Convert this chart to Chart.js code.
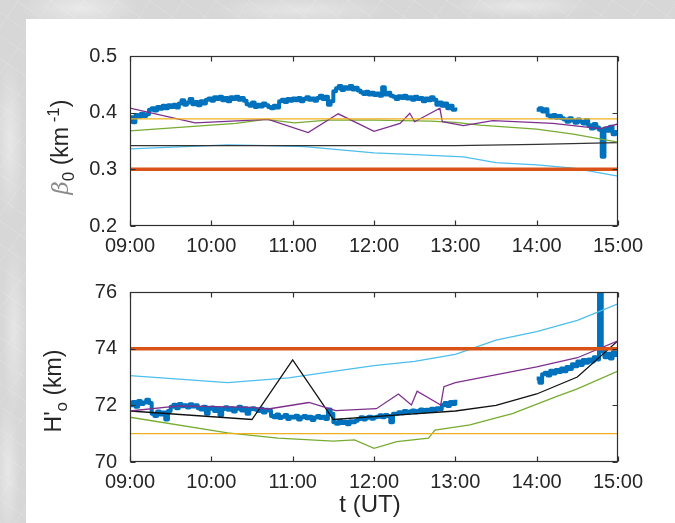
<!DOCTYPE html>
<html>
<head>
<meta charset="utf-8">
<script src="https://cdn.jsdelivr.net/npm/chart.js@4.4.1/dist/chart.umd.min.js"></script>
<style>
  html, body { margin:0; padding:0; }
  body {
    width:675px; height:523px; position:relative; overflow:hidden;
    background:
      radial-gradient(ellipse 60px 20px at 80px 8px, rgba(255,255,255,0.45), transparent),
      radial-gradient(ellipse 90px 14px at 300px 10px, rgba(255,255,255,0.35), transparent),
      radial-gradient(ellipse 70px 12px at 520px 6px, rgba(255,255,255,0.4), transparent),
      radial-gradient(ellipse 14px 80px at 10px 140px, rgba(255,255,255,0.4), transparent),
      radial-gradient(ellipse 12px 90px at 14px 330px, rgba(255,255,255,0.35), transparent),
      radial-gradient(ellipse 12px 70px at 8px 470px, rgba(255,255,255,0.4), transparent),
      repeating-linear-gradient(35deg, rgba(255,255,255,0.12) 0 1px, transparent 1px 19px),
      repeating-linear-gradient(-55deg, rgba(255,255,255,0.10) 0 1px, transparent 1px 27px),
      #d7d7d7;
    font-family: "Liberation Sans", Arial, sans-serif;
  }
  #panel { position:absolute; left:26px; top:19px; right:0; bottom:0; background:#fff; }
  canvas { position:absolute; left:0; top:0; }
  .ytitle { position:absolute; transform: translate(-50%,-50%) rotate(-90deg); white-space:nowrap;
            font-size:23px; color:#262626; line-height:1; }
  .ytitle sub, .ytitle sup { font-size:17px; }
  .beta { font-family: "DejaVu Serif", serif; font-style:italic; color:#8a8a8a; }
  #xtitle { position:absolute; left:370px; top:504px; transform:translate(-50%,-50%); font-size:24px; color:#262626; white-space:nowrap; }
</style>
</head>
<body>
<div id="panel"></div>
<canvas id="c1" width="675" height="523"></canvas>
<canvas id="c2" width="675" height="523"></canvas>
<div class="ytitle" style="left:61px; top:147px;"><span class="beta">β</span><sub>0</sub> (km<sup> -1</sup>)</div>
<div class="ytitle" style="left:56px; top:391px;">H'<sub>o</sub> (km)</div>
<div id="xtitle">t (UT)</div>
<script>
// ---------- DATA ----------
// hourly x ticks (hours UT)
const hourTicks = [9, 10, 11, 12, 13, 14, 15];
const betaTicks = [0.2, 0.3, 0.4, 0.5];
const hTicks = [70, 72, 74, 76];

// Measured blue series, sampled every 2 minutes
const blueStep = 1 / 30;
const betaMeasAMStart = 9;
const betaMeasAM = [
  0.392,0.383,0.396,0.393,0.398,0.394,0.397,
  0.405,0.408,0.404,0.41,0.407,0.412,0.408,0.413,0.41,0.414,0.409,
  0.416,0.422,0.414,0.418,0.424,0.415,0.419,0.413,0.42,0.416,0.423,
  0.425,0.421,0.427,0.424,0.428,0.422,0.426,0.42,0.427,0.424,0.428,0.423,0.426,0.421,
  0.415,0.412,0.418,0.41,0.414,0.411,0.416,0.413,
  0.41,0.408,0.412,0.409,
  0.42,0.423,0.419,0.424,0.421,0.425,0.422,0.426,0.42,0.424,0.427,0.423,0.425,0.421,0.426,0.43,0.424,0.428,
  0.414,0.42,0.438,
  0.443,0.447,0.44,0.445,0.442,0.447,0.441,0.444,0.439,
  0.436,0.433,0.437,0.432,0.435,0.431,
  0.434,0.43,0.445,0.432,0.435,0.43,
  0.428,0.424,0.429,0.426,0.43,0.425,
  0.427,0.423,0.428,0.424,0.426,0.42,0.425,0.422,0.427,0.423,
  0.414,0.418,0.412,0.416,
  0.408,0.412,0.405,0.409
];
const betaMeasPMStart = 14;
const betaMeasPM = [
  0.405,0.408,0.402,0.406,
  0.395,0.392,0.396,0.391,0.394,0.39,
  0.388,0.384,0.39,0.386,0.382,0.388,0.384,0.381,0.387,
  0.378,0.372,0.38,0.374,0.37,
  0.322,
  0.372,0.368,0.375,
  0.362,0.366,0.36
];
const hMeasAMStart = 9;
const hMeasAM = [
  72.0,72.12,71.95,72.15,72.05,72.1,
  72.2,72.08,
  71.7,71.62,71.78,71.68,71.75,
  71.5,71.8,
  71.95,72.02,71.9,72.05,71.97,72.0,71.92,72.04,71.96,72.0,
  71.9,71.85,71.95,71.7,71.88,71.92,71.8,71.9,71.65,71.87,71.93,71.84,71.9,71.78,71.88,71.95,71.82,71.9,71.7,71.86,71.9,
  71.85,71.8,71.88,71.75,71.84,71.82,
  71.62,71.58,71.68,71.55,71.6,71.66,71.52,71.6,71.57,71.63,71.5,71.58,71.62,71.54,71.6,71.48,71.57,71.62,
  71.55,71.6,71.52,
  71.85,71.7,
  71.4,71.35,71.45,71.38,71.42,71.33,71.44,71.4,71.46,
  71.52,71.58,71.5,71.56,71.6,71.53,71.58,
  71.6,71.65,71.58,71.66,71.62,
  71.4,71.7,
  71.7,71.76,71.72,71.8,71.74,71.78,71.82,71.76,71.8,71.85,71.78,71.84,71.8,
  71.88,71.83,71.9,71.86,
  72.0,72.08,71.98,72.12,72.05,72.2
];
const hMeasPMStart = 14;
const hMeasPM = [
  72.95,72.8,73.1,
  73.15,73.05,73.22,73.12,73.25,73.18,73.3,73.2,
  73.35,73.28,73.45,73.38,73.55,73.42,73.6,73.5,73.62,73.55,
  73.7,73.62,
  76.5,
  73.9,73.7,73.82,73.65,73.88,73.78,73.92
];

// Model curves, top panel (beta)
const betaRedT = [9, 15];            const betaRed = [0.3, 0.3];
const betaYellowT = [9, 15];         const betaYellow = [0.389, 0.389];
const betaBlackT = [9, 10, 11, 12, 13, 14, 15];
const betaBlack = [0.342, 0.342, 0.342, 0.342, 0.342, 0.344, 0.347];
const betaCyanT = [9, 10.2, 10.7, 11.15, 12.0, 12.5, 13.1, 13.5, 14.0, 14.45, 15];
const betaCyan = [0.336, 0.343, 0.342, 0.340, 0.329, 0.326, 0.322, 0.312, 0.308, 0.302, 0.288];
const betaGreenT = [9, 10.3, 10.67, 11.02, 11.43, 12.0, 12.7, 13.0, 13.3, 14.0, 14.45, 15];
const betaGreen = [0.368, 0.381, 0.388, 0.382, 0.387, 0.387, 0.385, 0.383, 0.378, 0.371, 0.362, 0.348];
const betaPurpleT = [9, 9.8, 10.7, 11.19, 11.56, 12.0, 12.32, 12.44, 12.5, 12.81, 12.84, 13.1, 13.46, 14.2, 14.78, 15];
const betaPurple = [0.408, 0.382, 0.388, 0.365, 0.398, 0.367, 0.381, 0.399, 0.384, 0.408, 0.384, 0.377, 0.386, 0.381, 0.372, 0.380];

// Model curves, bottom panel (H')
const hRedT = [9, 15];               const hRed = [74, 74];
const hYellowT = [9, 15];            const hYellow = [71, 71];
const hCyanT = [9, 10.2, 10.95, 11.5, 12.0, 12.5, 13.0, 13.5, 14.0, 14.5, 15];
const hCyan = [73.05, 72.8, 72.97, 73.2, 73.4, 73.55, 73.8, 74.3, 74.6, 75.0, 75.58];
const hBlackT = [9, 10.5, 11.0, 11.5, 12.0, 13.0, 13.5, 14.0, 14.5, 15];
const hBlack = [71.8, 71.5, 73.6, 71.5, 71.6, 71.8, 72.0, 72.4, 73.0, 74.28];
const hPurpleT = [9, 9.6, 10.5, 10.7, 11.2, 11.53, 12.03, 12.3, 12.46, 12.53, 12.82, 12.86, 13.0, 14.0, 14.5, 15];
const hPurple = [71.8, 71.98, 71.93, 71.87, 72.1, 71.81, 71.88, 72.4, 72.01, 72.5, 72.01, 72.66, 72.8, 73.36, 73.68, 74.28];
const hGreenT = [9, 10.2, 10.82, 11.5, 11.76, 12.0, 12.28, 12.67, 12.75, 13.18, 13.71, 14.24, 14.5, 15];
const hGreen = [71.58, 71.03, 70.84, 70.74, 70.78, 70.48, 70.72, 70.84, 71.13, 71.31, 71.72, 72.31, 72.58, 73.21];

// ---------- HELPERS ----------
const pts = (ts, vs) => ts.map((t, i) => ({ x: t, y: vs[i] }));
const sampled = (start, vs) => vs.map((v, i) => ({ x: start + i * blueStep, y: v }));
const C = { blue:'#0072BD', red:'#D95319', yellow:'#EDB120', purple:'#7E2F8E', green:'#77AC30', cyan:'#4DBEEE', black:'#111111' };
const ds = (data, color, w, order, stepped) => ({ data, borderColor: color, borderWidth: w, pointRadius: 0, fill: false, tension: 0, order, clip: 0, stepped: !!stepped, borderJoinStyle: stepped ? 'round' : 'miter', borderCapStyle: 'butt' });

const boxPlugin = {
  id: 'boxTicks',
  afterDatasetsDraw(chart) {
    const { ctx, chartArea: a, scales } = chart;
    const L = Math.round(a.left) + 0.5, R = Math.round(a.right) - 0.5;
    const T = Math.round(a.top) + 0.5, B = Math.round(a.bottom) - 0.5;
    ctx.save();
    ctx.strokeStyle = '#303030';
    ctx.lineWidth = 1.2;
    ctx.beginPath();
    scales.x.ticks.forEach(t => {
      const px = Math.round(scales.x.getPixelForValue(t.value)) + 0.5;
      ctx.moveTo(px, B); ctx.lineTo(px, B - 5);
      ctx.moveTo(px, T); ctx.lineTo(px, T + 5);
    });
    scales.y.ticks.forEach(t => {
      const py = Math.round(scales.y.getPixelForValue(t.value)) + 0.5;
      ctx.moveTo(L, py); ctx.lineTo(L + 5, py);
      ctx.moveTo(R, py); ctx.lineTo(R - 5, py);
    });
    ctx.stroke();
    ctx.strokeRect(L, T, R - L, B - T);
    ctx.restore();
  }
};

Chart.defaults.font.family = '"Liberation Sans", Arial, sans-serif';
Chart.defaults.color = '#262626';

function makeChart(id, area, yTicks, yFmt, datasets) {
  const yW = 50, xH = 40;
  return new Chart(document.getElementById(id), {
    type: 'line',
    data: { datasets },
    options: {
      responsive: false, animation: false, devicePixelRatio: 1,
      layout: { padding: { left: area.left - yW, top: area.top, right: 675 - area.right, bottom: 523 - area.bottom - xH } },
      plugins: { legend: { display: false }, tooltip: { enabled: false } },
      scales: {
        x: {
          type: 'linear', min: hourTicks[0], max: hourTicks[hourTicks.length - 1],
          afterFit: s => { s.height = xH; },
          afterBuildTicks: s => { s.ticks = hourTicks.map(v => ({ value: v })); },
          grid: { display: false, drawTicks: false }, border: { display: false },
          ticks: { padding: 8, maxRotation: 0, autoSkip: false, font: { size: 20 },
                   callback: v => String(Math.round(v)).padStart(2, '0') + ':00' }
        },
        y: {
          type: 'linear', min: yTicks[0], max: yTicks[yTicks.length - 1],
          afterFit: s => { s.width = yW; },
          afterBuildTicks: s => { s.ticks = yTicks.map(v => ({ value: v })); },
          grid: { display: false, drawTicks: false }, border: { display: false },
          ticks: { padding: 13, font: { size: 20 }, callback: yFmt }
        }
      }
    },
    plugins: [boxPlugin]
  });
}

makeChart('c1', { left: 130, right: 618, top: 56, bottom: 226 }, betaTicks, v => v.toFixed(1), [
  ds(pts(betaRedT, betaRed), C.red, 3.5, 1),
  ds(pts(betaYellowT, betaYellow), C.yellow, 1.3, 2),
  ds(pts(betaPurpleT, betaPurple), C.purple, 1.3, 3),
  ds(pts(betaGreenT, betaGreen), C.green, 1.3, 4),
  ds(pts(betaBlackT, betaBlack), '#333333', 1.3, 5),
  ds(pts(betaCyanT, betaCyan), C.cyan, 1.3, 6),
  ds(sampled(betaMeasAMStart, betaMeasAM), C.blue, 4, 10, true),
  ds(sampled(betaMeasPMStart, betaMeasPM), C.blue, 4, 10, true)
]);

makeChart('c2', { left: 130, right: 618, top: 292, bottom: 462 }, hTicks, v => String(v), [
  ds(pts(hRedT, hRed), C.red, 3.5, 1),
  ds(pts(hYellowT, hYellow), C.yellow, 1.3, 2),
  ds(pts(hPurpleT, hPurple), C.purple, 1.3, 3),
  ds(pts(hBlackT, hBlack), C.black, 1.3, 4),
  ds(pts(hGreenT, hGreen), C.green, 1.3, 5),
  ds(pts(hCyanT, hCyan), C.cyan, 1.3, 6),
  ds(sampled(hMeasAMStart, hMeasAM), C.blue, 4, 10, true),
  ds(sampled(hMeasPMStart, hMeasPM), C.blue, 4, 10, true)
]);
</script>
</body>
</html>
